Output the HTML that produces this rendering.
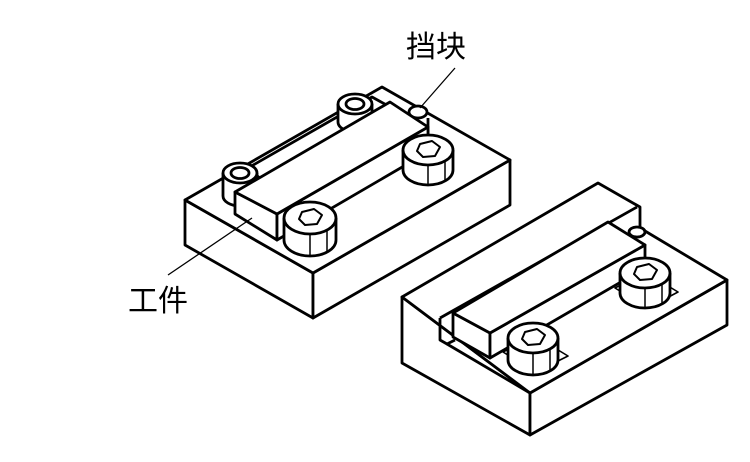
<!DOCTYPE html>
<html><head><meta charset="utf-8"><style>
html,body{margin:0;padding:0;background:#fff;}
svg{display:block}
text{font-family:"Liberation Sans","Noto Sans CJK SC",sans-serif;font-size:30px;fill:#000}
</style></head><body>
<svg width="750" height="462" viewBox="0 0 750 462" xmlns="http://www.w3.org/2000/svg">
<g fill="#fff" stroke="#000" stroke-width="2.8" stroke-linejoin="round">
<!-- LEFT BLOCK -->
<polygon points="185,200 313,273 313,318 185,245"/>
<polygon points="313,273 510,160 510,205 313,318"/>
<polygon points="185,200 382,87 510,160 313,273"/>
<!-- back rail -->
<polygon points="248,168 372,97 392,108 262,180"/>
<!-- stop ball -->
<ellipse cx="418" cy="112" rx="9" ry="6"/>
<line x1="428" y1="118" x2="428" y2="135"/>
<!-- left post -->
<path d="M223,173 L223,196 A17,10 0 0 0 257,196 L257,173"/>
<ellipse cx="240" cy="173" rx="17" ry="10"/>
<ellipse cx="240" cy="173" rx="9" ry="5.5"/>
<!-- right post -->
<path d="M338,104 L338,122 A17,10 0 0 0 372,122 L372,104"/>
<ellipse cx="355" cy="104" rx="17" ry="10"/>
<ellipse cx="355" cy="104" rx="9" ry="5.5"/>
<!-- workpiece bar -->
<polygon points="235,192 277,214 277,240 235,214"/>
<polygon points="277,214 428,127 428,152 277,240"/>
<polygon points="235,192 390,102 428,127 277,214"/>
<!-- back bolt -->
<path d="M403,150 L403,170 A25,15 0 0 0 453,170 L453,150"/>
<ellipse cx="428" cy="150" rx="25" ry="15"/>
<polygon points="420,144 432,141 440,147 435,156 423,157 417,151" stroke-width="2"/>
<line x1="428" y1="165" x2="428" y2="185" stroke-width="1.5"/>
<line x1="445" y1="161" x2="445" y2="181" stroke-width="1.5"/>
<!-- front bolt -->
<path d="M284,218 L284,240 A26,16 0 0 0 336,240 L336,218"/>
<ellipse cx="310" cy="218" rx="26" ry="16"/>
<polygon points="302,212 314,209 322,215 317,224 305,225 299,219" stroke-width="2"/>
<line x1="310" y1="234" x2="310" y2="256" stroke-width="1.5"/>
<line x1="327" y1="230" x2="327" y2="252" stroke-width="1.5"/>

<!-- RIGHT BLOCK -->
<polygon points="402,297 530,393 530,435 402,363"/>
<polygon points="530,393 727,280 727,325 530,435"/>
<polygon points="402,297 598,183 640,207 640,228 727,280 530,393"/>
<line x1="440" y1="318" x2="637" y2="207"/>
<polyline points="440,318 440,340 447,344 455,340" fill="none"/>
<line x1="447" y1="344" x2="530" y2="393"/>
<!-- stop ball -->
<ellipse cx="637" cy="232" rx="8" ry="5"/>
<!-- washers -->
<polygon points="503,352 536,372 568,356 535,336" stroke-width="1.6"/>
<polygon points="615,288 648,308 678,292 645,272" stroke-width="1.6"/>
<!-- workpiece bar -->
<polygon points="453,313 490,333 490,358 453,337"/>
<polygon points="490,333 645,245 645,268 490,358"/>
<polygon points="453,313 608,222 645,245 490,333"/>
<!-- back bolt -->
<path d="M620,273 L620,293 A25,15 0 0 0 670,293 L670,273"/>
<ellipse cx="645" cy="273" rx="25" ry="15"/>
<polygon points="637,267 649,264 657,270 652,279 640,280 634,274" stroke-width="2"/>
<line x1="645" y1="288" x2="645" y2="308" stroke-width="1.5"/>
<line x1="662" y1="284" x2="662" y2="304" stroke-width="1.5"/>
<!-- front bolt -->
<path d="M508,338 L508,360 A25,15 0 0 0 558,360 L558,338"/>
<ellipse cx="533" cy="338" rx="25" ry="15"/>
<polygon points="525,332 537,329 545,335 540,344 528,345 522,339" stroke-width="2"/>
<line x1="533" y1="353" x2="533" y2="375" stroke-width="1.5"/>
<line x1="550" y1="349" x2="550" y2="371" stroke-width="1.5"/>
</g>
<!-- leaders -->
<g stroke="#000" stroke-width="1.3">
<line x1="455" y1="68" x2="420" y2="108"/>
<line x1="252" y1="218" x2="168" y2="275"/>
</g>
<text x="406" y="57">挡块</text>
<text x="128" y="311">工件</text>
</svg>
</body></html>
